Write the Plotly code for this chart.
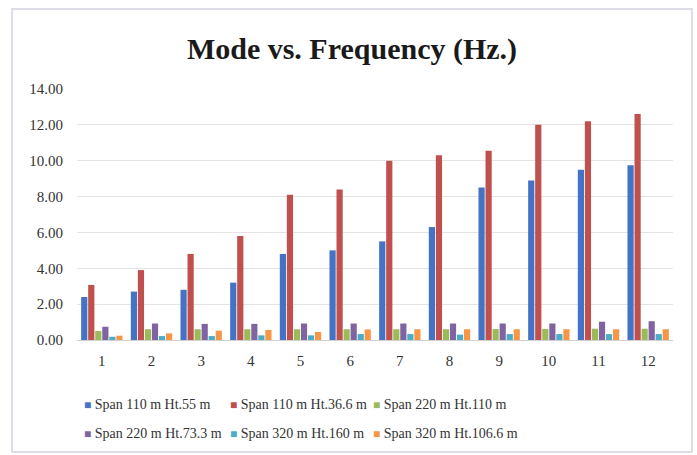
import plotly.graph_objects as go

modes = ["1", "2", "3", "4", "5", "6", "7", "8", "9", "10", "11", "12"]
names = [
    "Span 110 m Ht.55 m",
    "Span 110 m Ht.36.6 m",
    "Span 220 m Ht.110 m",
    "Span 220 m Ht.73.3 m",
    "Span 320 m Ht.160 m",
    "Span 320 m Ht.106.6 m",
]
s110_55 = [2.40, 2.70, 2.80, 3.20, 4.80, 5.00, 5.50, 6.30, 8.50, 8.90, 9.50, 9.75]
s110_366 = [3.07, 3.90, 4.80, 5.80, 8.10, 8.40, 10.00, 10.30, 10.55, 12.00, 12.20, 12.60]
s220_110 = [0.50, 0.60, 0.60, 0.60, 0.60, 0.60, 0.60, 0.60, 0.61, 0.62, 0.63, 0.63]
s220_733 = [0.74, 0.92, 0.90, 0.90, 0.92, 0.92, 0.92, 0.92, 0.92, 0.92, 1.02, 1.05]
s320_160 = [0.18, 0.22, 0.22, 0.26, 0.26, 0.33, 0.33, 0.30, 0.33, 0.33, 0.33, 0.33]
s320_1066 = [0.24, 0.37, 0.52, 0.56, 0.45, 0.59, 0.60, 0.60, 0.60, 0.60, 0.60, 0.60]
series = [s110_55, s110_366, s220_110, s220_733, s320_160, s320_1066]
colors = ["#4472C4", "#C0504D", "#9BBB59", "#8064A2", "#4BACC6", "#F79646"]
ytick_vals = [0, 2, 4, 6, 8, 10, 12, 14]

serif = "Liberation Serif, Times New Roman, serif"

fig = go.Figure()
for nm, vals, col in zip(names, series, colors):
    fig.add_trace(go.Bar(x=modes, y=vals, name=nm, marker_color=col,
                         marker_line_width=0, showlegend=False))

L, R, T, B = 77, 24, 89, 115
W, H = 697, 455
pw, ph = W - L - R, H - T - B

def px_x(p):
    return (p - L) / pw

def px_y(p):
    return (H - B - p) / ph

# legend drawn as text entries: 3 columns x 2 rows
col_x = [82, 228, 371]
row_y = [404, 433]
annotations = []
for i, (nm, col) in enumerate(zip(names, colors)):
    annotations.append(dict(
        text=f"<span style='color:{col};font-size:12px'>■</span> {nm}",
        xref="paper", yref="paper", x=px_x(col_x[i % 3]), y=px_y(row_y[i // 3]),
        xanchor="left", yanchor="middle", showarrow=False,
        font=dict(family=serif, size=14, color="#333333"),
    ))

fig.update_layout(
    width=W, height=H,
    margin=dict(l=L, r=R, t=T, b=B, autoexpand=False),
    paper_bgcolor="white", plot_bgcolor="white",
    barmode="group", bargap=0.15, bargroupgap=0.12,
    showlegend=False,
    title=dict(text="<b>Mode vs. Frequency (Hz.)</b>", x=px_x(352), xref="paper",
               xanchor="center", y=1 - 48 / H, yanchor="middle",
               font=dict(family=serif, size=30, color="#1a1a1a")),
    xaxis=dict(type="category", showgrid=False, showline=True, linecolor="#d0d0d0",
               ticks="", ticklabelstandoff=7, automargin=False,
               tickfont=dict(family=serif, size=15, color="#333333")),
    yaxis=dict(range=[0, 14], tickvals=ytick_vals, tickformat=".2f",
               showgrid=True, gridcolor="#e3e3e3", zeroline=False, showline=False,
               ticks="", ticklabelstandoff=13, automargin=False,
               tickfont=dict(family=serif, size=15, color="#333333")),
    annotations=annotations,
    shapes=[dict(type="rect", xref="paper", yref="paper",
                 x0=px_x(12), x1=px_x(692), y0=px_y(452), y1=px_y(9),
                 line=dict(color="#dcdde8", width=2), fillcolor="rgba(0,0,0,0)", layer="below")],
)

fig.write_html("out.html")
